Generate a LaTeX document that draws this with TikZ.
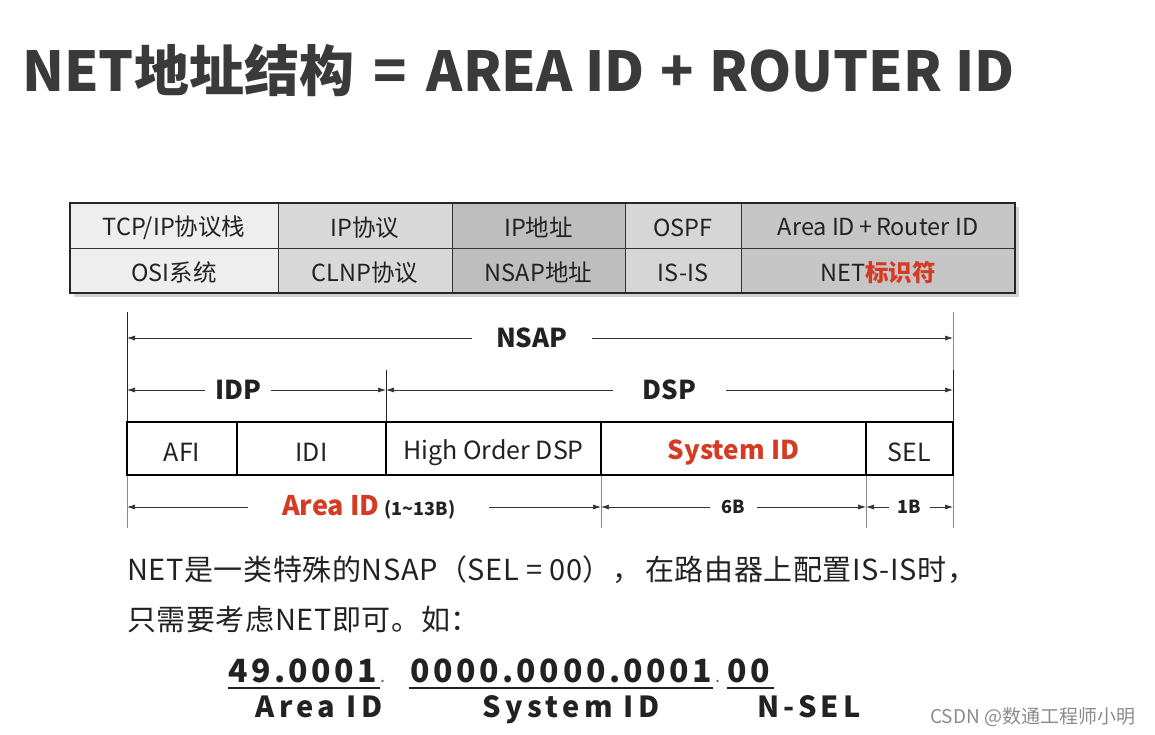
\documentclass[tikz,border=0pt]{standalone}
\usepackage{fontspec}
\setmainfont{Noto Sans CJK SC}
\usetikzlibrary{arrows.meta}
\definecolor{titlegray}{HTML}{3A3A3A}
\definecolor{txt}{HTML}{222222}
\definecolor{redt}{HTML}{D43B22}
\definecolor{fa}{HTML}{EEEEEE}
\definecolor{fb}{HTML}{D9D9D9}
\definecolor{fc}{HTML}{BEBEBE}
\definecolor{fd}{HTML}{D6D6D6}
\definecolor{fe}{HTML}{C6C6C6}
\definecolor{guide}{HTML}{8A8A8A}
\newcommand{\exsep}{\kern3pt{\mdseries\fontsize{18}{20}\selectfont\textcolor{black!60}{.}}}
\tikzset{
  cell/.style={draw=black!80, line width=0.8pt, minimum height=45pt, inner sep=0pt},
  celltxt/.style={inner sep=0pt, text=txt, font=\fontsize{23.5}{26}\selectfont},
  field/.style={draw=black, line width=1.3pt, minimum height=53pt, inner sep=0pt},
  fieldtxt/.style={inner sep=0pt, text=txt, font=\fontsize{25}{28}\selectfont},
  dim/.style={draw=black!80, line width=0.7pt, {Latex[length=8pt,width=5pt]}-{Latex[length=8pt,width=5pt]}},
  dimlbl/.style={fill=white, text=txt, inner ysep=0pt},
  vguide/.style={draw=guide, line width=0.8pt},
  vdark/.style={draw=black!85, line width=1pt},
  para/.style={anchor=base west, inner sep=0pt, text=txt, font=\fontsize{29}{31}\selectfont\addfontfeatures{LetterSpace=2}},
  exnum/.style={anchor=base west, inner sep=0pt, text=txt, font=\fontsize{32}{34}\selectfont\bfseries\addfontfeatures{LetterSpace=11}},
  exlbl/.style={anchor=base, inner sep=0pt, text=txt, font=\fontsize{29}{32}\selectfont\bfseries\addfontfeatures{LetterSpace=15}}
}
\begin{document}
\begin{tikzpicture}[x=1pt,y=-1pt]
\useasboundingbox[fill=white] (0,0) rectangle (1155,735);

% title
\node[anchor=base west, inner sep=0pt, text=titlegray, font=\fontsize{55}{60}\selectfont\bfseries] (title) at (22,92) {NET地址结构\hspace{7pt} = \hspace{7pt}AREA ID \hspace{3pt}+\hspace{3pt} ROUTER ID};

% table
\fill[black!18] (74,207) rectangle (1019,297);
\node[cell, fill=fa, minimum width=208pt] (a1) at (174,225.5) {};
\node[cell, fill=fb, minimum width=174pt] (a2) at (365,225.5) {};
\node[cell, fill=fc, minimum width=173pt] (a3) at (538.5,225.5) {};
\node[cell, fill=fd, minimum width=116pt] (a4) at (683,225.5) {};
\node[cell, fill=fe, minimum width=274pt] (a5) at (878,225.5) {};
\node[cell, fill=fa, minimum width=208pt] (b1) at (174,270.5) {};
\node[cell, fill=fb, minimum width=174pt] (b2) at (365,270.5) {};
\node[cell, fill=fc, minimum width=173pt] (b3) at (538.5,270.5) {};
\node[cell, fill=fd, minimum width=116pt] (b4) at (683,270.5) {};
\node[cell, fill=fe, minimum width=274pt] (b5) at (878,270.5) {};
\draw[black!85, line width=2pt] (a1.north west) rectangle (b5.south east);
\node[celltxt] (ta1) at ([yshift=-2pt]a1.center) {TCP/IP协议栈};
\node[celltxt] (ta2) at ([yshift=-2pt]a2.center) {IP协议};
\node[celltxt] (ta3) at ([yshift=-2pt]a3.center) {IP地址};
\node[celltxt] (ta4) at ([yshift=-2pt]a4.center) {OSPF};
\node[celltxt] (ta5) at ([yshift=-2pt]a5.center) {Area ID\,+\,Router ID};
\node[celltxt] (tb1) at ([yshift=-2pt]b1.center) {OSI系统};
\node[celltxt] (tb2) at ([yshift=-2pt]b2.center) {CLNP协议};
\node[celltxt] (tb3) at ([yshift=-2pt]b3.center) {NSAP地址};
\node[celltxt] (tb4) at ([yshift=-2pt]b4.center) {IS-IS};
\node[celltxt] (tb5) at ([yshift=-2pt]b5.center) {NET\textcolor{redt}{\bfseries 标识符}};

% guide lines
\coordinate (gL1) at (127,312); \coordinate (gL2) at (127,528);
\coordinate (gR1) at (953,312); \coordinate (gR2) at (953,528);
\coordinate (gM1) at (386,370); \coordinate (gM2) at (386,422);
\coordinate (gS1) at (601,475); \coordinate (gS2) at (601,528);
\coordinate (gT1) at (866,475); \coordinate (gT2) at (866,528);
\draw[vdark] (gL1) -- (127,422);
\draw[vguide] (127,475) -- (gL2);
\draw[vguide] (gR1) -- (953,370);
\draw[vdark] (953,370) -- (953,422);
\draw[vguide] (953,475) -- (gR2);
\draw[vdark] (gM1) -- (gM2);
\draw[vguide] (gS1) -- (gS2);
\draw[vguide] (gT1) -- (gT2);

% NSAP
\coordinate (n1) at (127,338); \coordinate (n2) at (953,338);
\draw[dim] (n1) -- (n2) node[dimlbl, pos=0.49, inner xsep=24pt, font=\fontsize{26}{28}\selectfont\bfseries] (nsap) {NSAP};
% IDP / DSP
\coordinate (i1) at (127,390); \coordinate (i2) at (386,390); \coordinate (d2) at (953,390);
\draw[dim] (i1) -- (i2) node[dimlbl, pos=0.43, inner xsep=10pt, font=\fontsize{26}{28}\selectfont\bfseries] (idp) {IDP};
\draw[dim] (i2) -- (d2) node[dimlbl, pos=0.5, inner xsep=30pt, font=\fontsize{26}{28}\selectfont\bfseries] (dsp) {DSP};

% fields
\node[field, minimum width=110pt] (afi) at (182,448.5) {};
\node[field, minimum width=149pt] (idi) at (311.5,448.5) {};
\node[field, minimum width=215pt] (hod) at (493.5,448.5) {};
\node[field, minimum width=265pt] (sid) at (733.5,448.5) {};
\node[field, minimum width=87pt] (sel) at (909.5,448.5) {};
\node[fieldtxt] (tafi) at ([yshift=-4pt]afi.center) {AFI};
\node[fieldtxt] (tidi) at ([yshift=-4pt]idi.center) {IDI};
\node[fieldtxt] (thod) at ([yshift=-4pt]hod.center) {High Order DSP};
\node[fieldtxt, text=redt, font=\fontsize{26}{28}\selectfont\bfseries] (tsid) at ([yshift=-4pt]sid.center) {System ID};
\node[fieldtxt] (tsel) at ([yshift=-4pt]sel.center) {SEL};

% lower dims
\coordinate (l1) at (127,507); \coordinate (l2) at (601,507); \coordinate (l3) at (866,507); \coordinate (l4) at (953,507);
\draw[dim] (l1) -- (l2) node[dimlbl, pos=0.51, inner xsep=34pt] (aid) {\textcolor{redt}{\fontsize{27}{28}\selectfont\bfseries Area ID}\hspace{5pt}{\fontsize{18}{20}\selectfont\bfseries (1\textasciitilde13B)}};
\draw[dim] (l2) -- (l3) node[dimlbl, pos=0.5, inner xsep=12pt, font=\fontsize{18}{20}\selectfont\bfseries] (sixb) {6B};
\draw[dim] (l3) -- (l4) node[dimlbl, pos=0.5, inner xsep=9pt, font=\fontsize{18}{20}\selectfont\bfseries] (oneb) {1B};

% paragraph
\node[para] (p1) at (127,580) {NET是一类特殊的NSAP（SEL = 00），\hspace{4pt}在路由器上配置IS-IS时，};
\node[para] (p2) at (127,630) {只需要考虑NET即可。如：};

% example
\node[exnum] (e1) at (228,682) {49.0001\exsep};
\node[exnum] (e2) at (410,682) {0000.0000.0001\exsep};
\node[exnum] (e3) at (727,682) {00};
\draw[txt, line width=2.5pt] (228,688) -- (380,688);
\draw[txt, line width=2.5pt] (409,688) -- (713,688);
\draw[txt, line width=2.5pt] (727,688) -- (774,688);
\node[exlbl] (x1) at (319,717) {Area ID};
\node[exlbl] (x2) at (571,717) {System ID};
\node[exlbl] (x3) at (809,717) {N-SEL};

% watermark
\node[anchor=base west, inner sep=0pt, text=black!45, font=\fontsize{19}{20}\selectfont] (wm) at (930,723) {CSDN @数通工程师小明};
\end{tikzpicture}
\end{document}
